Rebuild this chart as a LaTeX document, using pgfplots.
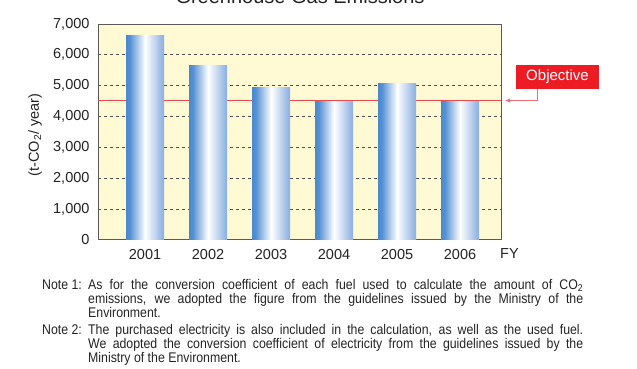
\documentclass[border=0pt]{standalone}
\usepackage{pgfplots}
\pgfplotsset{compat=1.18}
\usepackage{fontspec}
\setmainfont{Liberation Sans}
\newfontfamily\notefont[FakeStretch=0.88]{Liberation Sans}
\usetikzlibrary{arrows.meta}
\definecolor{bgyellow}{RGB}{255,249,212}
\definecolor{gridgray}{RGB}{80,80,80}
\definecolor{framegray}{RGB}{90,90,90}
\definecolor{txt}{RGB}{35,35,35}
\definecolor{objred}{RGB}{237,28,36}
\definecolor{linered}{RGB}{235,75,75}
\definecolor{pinkred}{RGB}{240,110,120}
\definecolor{bA}{RGB}{45,115,195}
\definecolor{bB}{RGB}{85,145,212}
\definecolor{bC}{RGB}{150,182,228}
\definecolor{bD}{RGB}{62,128,205}
\pgfdeclarehorizontalshading{barshade}{100bp}{color(0bp)=(bA); color(12bp)=(bA); color(30bp)=(bB); color(50bp)=(white); color(72bp)=(bC); color(100bp)=(bD)}
\begin{document}
\begin{tikzpicture}[x=1pt,y=1pt]
\begin{axis}[
  at={(98pt,129pt)}, anchor=south west,
  scale only axis, width=403pt, height=216pt,
  xmin=-0.746, xmax=5.65, ymin=0, ymax=7000,
  xtick={0,1,2,3,4,5},
  xticklabels={2001,2002,2003,2004,2005,2006},
  ytick={0,1000,2000,3000,4000,5000,6000,7000},
  scaled y ticks=false,
  /pgf/number format/.cd, 1000 sep={,}, assume math mode=true, /pgfplots/.cd,
  major tick length=0pt,
  axis background/.style={fill=bgyellow},
  ymajorgrids,
  grid style={gridgray, line width=1pt, dash pattern=on 3pt off 3pt},
  axis line style={framegray, line width=1pt},
  tick label style={font=\fontsize{14.5}{16}\selectfont, text=txt},
  yticklabel style={xshift=-5pt},
  xticklabel style={yshift=-6pt},
  every axis y label/.style={at={(axis description cs:-0.156,0.486)}, rotate=90, anchor=center, font=\fontsize{14.5}{16}\selectfont, text=txt},
  ylabel={(t-CO\textsubscript{2}/ year)},
  clip=false,
]
\addplot[linered, line width=1.2pt, mark=none] coordinates {(-0.746,4530) (5.65,4530)};
\addplot[ybar, bar width=38pt, bar shift=0pt, draw=none, shade, shading=barshade] coordinates {(0,6640)};
\addplot[ybar, bar width=38pt, bar shift=0pt, draw=none, shade, shading=barshade] coordinates {(1,5670)};
\addplot[ybar, bar width=38pt, bar shift=0pt, draw=none, shade, shading=barshade] coordinates {(2,4940)};
\addplot[ybar, bar width=38pt, bar shift=0pt, draw=none, shade, shading=barshade] coordinates {(3,4480)};
\addplot[ybar, bar width=38pt, bar shift=0pt, draw=none, shade, shading=barshade] coordinates {(4,5060)};
\addplot[ybar, bar width=38pt, bar shift=0pt, draw=none, shade, shading=barshade] coordinates {(5,4500)};
\end{axis}
% title (partly above the page, as in the reference)
\node[anchor=base, font=\fontsize{20}{24}\selectfont, text=txt, inner sep=0] at (300,365) {Greenhouse Gas Emissions};
% FY
\node[anchor=base west, font=\fontsize{14.5}{16}\selectfont, text=txt, inner sep=0] at (500,110) {FY};
% Objective label
\draw[pinkred, line width=0.9pt, -{Latex[length=5pt,width=4.5pt]}] (537,280) |- (505,268.5);
\node[fill=objred, text=white, minimum width=83pt, minimum height=24pt, inner sep=0, font=\fontsize{15}{18}\selectfont] at (557.5,292) {Objective};
% notes
\begin{scope}[every node/.style={anchor=base west, inner sep=0, font=\notefont\fontsize{14}{16}\selectfont, text=txt}]
\node at (42,79.5) {Note 1:};
\node at (88,79.5) {\makebox[495pt][s]{As for the conversion coefficient of each fuel used to calculate the amount of CO\textsubscript{2}}};
\node at (88,65.5) {\makebox[495pt][s]{emissions, we adopted the figure from the guidelines issued by the Ministry of the}};
\node at (88,51.5) {Environment.};
\node at (42,34.5) {Note 2:};
\node at (88,34.5) {\makebox[495pt][s]{The purchased electricity is also included in the calculation, as well as the used fuel.}};
\node at (88,20.5) {\makebox[495pt][s]{We adopted the conversion coefficient of electricity from the guidelines issued by the}};
\node at (88,6.5) {Ministry of the Environment.};
\end{scope}
\pgfresetboundingbox
\useasboundingbox (0,0) rectangle (637,369);
\end{tikzpicture}
\end{document}
